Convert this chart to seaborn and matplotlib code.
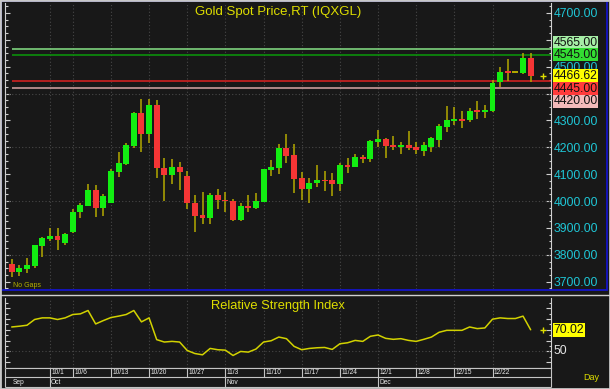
import numpy as np
import matplotlib
matplotlib.use("Agg")
import matplotlib.pyplot as plt
import matplotlib.transforms as mtransforms
from matplotlib.patches import Rectangle
from matplotlib.lines import Line2D
from matplotlib.ticker import FixedLocator, MultipleLocator, FuncFormatter
import seaborn as sns

# ---------------- data ----------------
dates = ['9/24', '9/25', '9/26', '9/29', '9/30',
         '10/1', '10/2', '10/3', '10/6', '10/7', '10/8', '10/9', '10/10',
         '10/13', '10/14', '10/15', '10/16', '10/17', '10/20', '10/21', '10/22',
         '10/23', '10/24', '10/27', '10/28', '10/29', '10/30', '10/31',
         '11/3', '11/4', '11/5', '11/6', '11/7', '11/10', '11/11', '11/12',
         '11/13', '11/14', '11/17', '11/18', '11/19', '11/20', '11/21', '11/24',
         '11/25', '11/26', '11/27', '11/28',
         '12/1', '12/2', '12/3', '12/4', '12/5', '12/8', '12/9', '12/10',
         '12/11', '12/12', '12/15', '12/16', '12/17', '12/18', '12/19', '12/22',
         '12/23', '12/24', '12/25', '12/26', '12/29']

opens = [3766, 3737, 3747, 3758, 3833, 3860, 3869, 3845, 3885, 3958, 3982, 4041, 3975,
         3994, 4108, 4138, 4205, 4326, 4248, 4356, 4123, 4096, 4127, 4094, 3994, 3948,
         3936, 4021, 4005, 4000, 3930, 3982, 3975, 3998, 4114, 4124, 4197, 4171, 4085,
         4045, 4066, 4078, 4078, 4062, 4134, 4128, 4163, 4155, 4221, 4231, 4209, 4201,
         4209, 4200, 4187, 4202, 4227, 4277, 4298, 4305, 4302, 4338, 4331, 4336, 4442,
         4483, 4479, 4478, 4531]
highs = [3783, 3761, 3787, 3837, 3867, 3899, 3899, 3882, 3970, 3992, 4062, 4060, 4026,
         4118, 4181, 4217, 4330, 4380, 4380, 4376, 4161, 4155, 4145, 4112, 4023, 4033,
         4029, 4045, 4033, 4008, 3992, 4021, 4029, 4120, 4153, 4212, 4248, 4212, 4107,
         4085, 4134, 4112, 4103, 4143, 4159, 4174, 4171, 4227, 4264, 4233, 4242, 4221,
         4261, 4221, 4221, 4239, 4286, 4354, 4351, 4335, 4347, 4372, 4357, 4450, 4500,
         4527, 4481, 4550, 4550]
lows = [3716, 3721, 3734, 3752, 3793, 3853, 3818, 3835, 3882, 3938, 3982, 3942, 3944,
        3994, 4088, 4133, 4199, 4184, 4217, 4085, 4001, 4065, 4041, 3970, 3886, 3915,
        3915, 3970, 3960, 3926, 3926, 3960, 3970, 3995, 4094, 4100, 4143, 4031, 4004,
        3994, 4053, 4039, 4020, 4039, 4105, 4126, 4140, 4146, 4202, 4161, 4190, 4175,
        4190, 4175, 4169, 4181, 4200, 4256, 4283, 4271, 4295, 4304, 4308, 4332, 4425,
        4447, 4477, 4472, 4442]
closes = [3737, 3752, 3762, 3835, 3861, 3869, 3855, 3879, 3960, 3985, 4041, 3975, 4019,
          4112, 4140, 4207, 4326, 4248, 4356, 4122, 4096, 4127, 4108, 3992, 3944, 3936,
          4021, 4003, 3999, 3930, 3982, 3975, 4001, 4118, 4127, 4197, 4169, 4082, 4045,
          4068, 4078, 4074, 4062, 4134, 4128, 4164, 4155, 4223, 4231, 4205, 4201, 4209,
          4196, 4190, 4209, 4233, 4279, 4302, 4305, 4299, 4336, 4331, 4340, 4438, 4481,
          4478, 4479, 4531, 4466.62]

rsi = [72.6, 73.3, 74.2, 79.5, 81.0, 81.0, 79.5, 81.0, 84.1, 84.7, 87.8, 75.4, 78.5,
       81.3, 82.6, 84.1, 87.8, 77.3, 81.0, 60.9, 58.7, 59.3, 58.7, 50.9, 48.1, 46.9,
       52.8, 51.6, 51.2, 46.3, 50.0, 49.4, 52.2, 58.7, 59.9, 63.3, 61.8, 54.7, 51.6,
       52.8, 53.4, 53.7, 51.9, 57.1, 58.0, 60.2, 59.3, 64.0, 65.2, 62.1, 61.2, 61.8,
       60.2, 59.3, 61.2, 63.3, 67.7, 69.5, 69.5, 69.5, 72.6, 71.1, 71.7, 79.8, 81.0,
       80.4, 80.4, 82.6, 70.02]

levels = [4565.00, 4545.00, 4445.00, 4420.00]
level_line_colors = ['#86e286', '#0a9a0a', '#e02222', '#d9a5a5']
level_box_colors = ['#a6eea6', '#33dd33', '#ff3b3b', '#f3baba']
level_label_shift_px = [6.4, 0.0, -7.4, -13.2]

week_ticks = ['10/1', '10/6', '10/13', '10/20', '10/27', '11/3', '11/10', '11/17',
              '11/24', '12/1', '12/8', '12/15', '12/22']
month_names = ['Sep', 'Oct', 'Nov', 'Dec']
month_starts = ['9/24', '10/1', '11/3', '12/1']
price_ticks = [3700, 3800, 3900, 4000, 4100, 4200, 4300, 4400, 4500, 4600, 4700]
hidden_price_labels = [4400, 4600]   # covered by the level boxes in the original
price_grid = [3800, 4000, 4200, 4400]

title = 'Gold Spot Price,RT (IQXGL)'
rsi_title = 'Relative Strength Index'

# ---------------- style ----------------
BG = '#181818'
GRID = '#474747'
SPINE = '#cfcfcf'
CYAN = '#1fc6d6'
YEL = '#dede00'
WICK = '#b4aa00'
GREEN = '#12ee12'
RED = '#f53535'

sns.set_theme(style='dark', rc={'axes.facecolor': BG, 'figure.facecolor': BG,
                                'axes.edgecolor': SPINE, 'savefig.facecolor': BG})
plt.rcParams['font.family'] = ['Liberation Sans', 'DejaVu Sans']

W, H = 610, 389
fig = plt.figure(figsize=(W / 100, H / 100), dpi=100)


def rect(x0, y0, x1, y1):
    return [x0 / W, 1 - y1 / H, (x1 - x0) / W, (y1 - y0) / H]


n = len(dates)
x = np.arange(n)
XL = (-0.88, 70.6)

ax = fig.add_axes(rect(5, 3, 550.5, 289))
ax_r = fig.add_axes(rect(5, 297.5, 550.5, 367.5))
ax_d = fig.add_axes(rect(5, 367.5, 550.5, 387))

# ---------------- main candle panel ----------------
o = np.array(opens, float)
c = np.array(closes, float)
hi = np.array(highs, float)
lo = np.array(lows, float)
up = c >= o
body_lo = np.minimum(o, c)
body_h = np.abs(c - o)

for t in week_ticks:
    ax.axvline(dates.index(t), color=GRID, lw=0.8, ls=(0, (1, 2)), zorder=1)
for g in price_grid:
    ax.axhline(g, color=GRID, lw=0.8, ls=(0, (1, 2)), zorder=1)

ax.hlines(levels, 0, XL[1], colors=level_line_colors, lw=1.1, zorder=2)

ax.vlines(x, lo, hi, color=WICK, lw=1.1, zorder=3)
m = body_h > 0
ax.bar(x[m], np.maximum(body_h[m], 4), bottom=body_lo[m], width=0.78,
       color=np.where(up, GREEN, RED)[m], lw=0, zorder=4)
d = ~m
ax.hlines(o[d], x[d] - 0.39, x[d] + 0.39, color=WICK, lw=1.4, zorder=4)

ax.set_xlim(XL)
ax.set_ylim(3673, 4737)
ax.set_xticks([])
ax.yaxis.set_major_locator(FixedLocator(price_ticks))
ax.yaxis.set_minor_locator(MultipleLocator(25))
ax.yaxis.set_major_formatter(FuncFormatter(
    lambda v, p: '' if round(v) in hidden_price_labels else f'{v:.2f}'))
ax.tick_params(axis='y', which='both', direction='in', left=True, right=True,
               labelleft=False, labelright=True, color=SPINE, labelcolor=CYAN,
               labelsize=8.8, pad=2, width=0.8)
ax.tick_params(axis='y', which='major', length=3.5)
ax.tick_params(axis='y', which='minor', length=1.8)
ax.tick_params(axis='x', which='both', bottom=False, top=False)
for s in ['top', 'bottom']:
    ax.spines[s].set_visible(False)
for s in ['left', 'right']:
    ax.spines[s].set_color(SPINE)
    ax.spines[s].set_linewidth(0.8)
ax.set_xlabel('')
ax.set_ylabel('')

trans = mtransforms.blended_transform_factory(ax.transAxes, ax.transData)
box_items = [(levels[0], level_box_colors[0], level_label_shift_px[0]),
             (levels[1], level_box_colors[1], level_label_shift_px[1]),
             (closes[-1], '#ffff00', 0.0),
             (levels[2], level_box_colors[2], level_label_shift_px[2]),
             (levels[3], level_box_colors[3], level_label_shift_px[3])]
for v, fc, dy in box_items:
    ax.annotate(f'{v:.2f}', xy=(1.0, v), xycoords=trans, xytext=(3, dy),
                textcoords='offset pixels', ha='left', va='center', fontsize=8.8,
                color='#111111', annotation_clip=False, zorder=8,
                bbox=dict(boxstyle='square,pad=0.06', fc=fc, ec='none'))

ax.plot([n + 0.6], [closes[-1]], marker='+', color=YEL, ms=5, mew=1.0,
        clip_on=False, zorder=6)

ax.text(0.5, 0.97, title, transform=ax.transAxes, ha='center', va='center',
        color=YEL, fontsize=9.5, zorder=7)
ax.text(0.0147, 0.011, 'No Gaps', transform=ax.transAxes, ha='left', va='center',
        color='#b4b000', fontsize=5, zorder=7)

# ---------------- RSI panel ----------------
for t in week_ticks:
    ax_r.axvline(dates.index(t), color=GRID, lw=0.8, ls=(0, (1, 2)), zorder=1)
ax_r.axhline(50, color=GRID, lw=0.8, ls=(0, (1, 2)), zorder=1)
sns.lineplot(x=x, y=rsi, ax=ax_r, color='#d2d200', lw=1.1, zorder=3)
ax_r.set_xlim(XL)
ax_r.set_ylim(35.2, 99.8)
ax_r.set_xticks([])
ax_r.yaxis.set_major_locator(MultipleLocator(10))
ax_r.yaxis.set_minor_locator(MultipleLocator(5))
ax_r.tick_params(axis='y', which='both', direction='in', left=True, right=True,
                 labelleft=False, labelright=False, color=SPINE, width=0.8)
ax_r.tick_params(axis='y', which='major', length=3.5)
ax_r.tick_params(axis='y', which='minor', length=1.8)
ax_r.spines['top'].set_visible(False)
for s in ['left', 'right', 'bottom']:
    ax_r.spines[s].set_color(SPINE)
    ax_r.spines[s].set_linewidth(0.8)
ax_r.set_xlabel('')
ax_r.set_ylabel('')

trans_r = mtransforms.blended_transform_factory(ax_r.transAxes, ax_r.transData)
ax_r.annotate('50', xy=(1.0, 50), xycoords=trans_r, xytext=(3, 0),
              textcoords='offset pixels', ha='left', va='center', fontsize=8.8,
              color='#e6e6e6', annotation_clip=False)
ax_r.annotate(f'{rsi[-1]:.2f}', xy=(1.0, rsi[-1]), xycoords=trans_r, xytext=(3, 0),
              textcoords='offset pixels', ha='left', va='center', fontsize=8.8,
              color='#111111', annotation_clip=False, zorder=8,
              bbox=dict(boxstyle='square,pad=0.06', fc='#ffff00', ec='none'))
ax_r.plot([n + 0.6], [rsi[-1]], marker='+', color=YEL, ms=5, mew=1.0,
          clip_on=False, zorder=6)
ax_r.text(0.5, 0.882, rsi_title, transform=ax_r.transAxes, ha='center', va='center',
          color=YEL, fontsize=9.3, zorder=7)

# ---------------- date axis ----------------
ax_d.set_xlim(XL)
ax_d.set_ylim(0, 2)
ax_d.set_xticks([])
ax_d.set_yticks([])
for s in ax_d.spines.values():
    s.set_visible(False)
LINE = '#c4c4c4'
ax_d.hlines([2, 1, 0], XL[0], XL[1], color=LINE, lw=0.8, clip_on=False)
ax_d.vlines([XL[0], XL[1]], 0, 2, color=LINE, lw=0.8, clip_on=False)
for t in week_ticks:
    xi = dates.index(t)
    ax_d.vlines(xi, 1, 2, color=LINE, lw=0.8)
    ax_d.text(xi + 0.2, 1.5, t, ha='left', va='center', fontsize=4.8, color='#ececec')
for name, start in zip(month_names, month_starts):
    xi = dates.index(start)
    if xi > 0:
        ax_d.vlines(xi, 0, 1, color=LINE, lw=0.8)
    ax_d.text(xi + 0.15, 0.5, name, ha='left', va='center', fontsize=4.8, color='#ececec')

fig.text(591 / W, 1 - 377.7 / H, 'Day', ha='center', va='center', color=YEL, fontsize=6.5)

# ---------------- frame lines ----------------
fig.add_artist(Line2D([0, 1], [1 - 295 / H] * 2, transform=fig.transFigure,
                      color='#d0d0d0', lw=1.0))
fig.add_artist(Rectangle((1 / W, 1 - 290 / H), 606 / W, 289 / H, transform=fig.transFigure,
                         fill=False, ec='#1414c8', lw=1.3))
fig.add_artist(Rectangle((0, 0), 1, 1, transform=fig.transFigure, fill=False,
                         ec='#c8c8c8', lw=2.0))

fig.savefig('out.png', dpi=100, facecolor=BG)
